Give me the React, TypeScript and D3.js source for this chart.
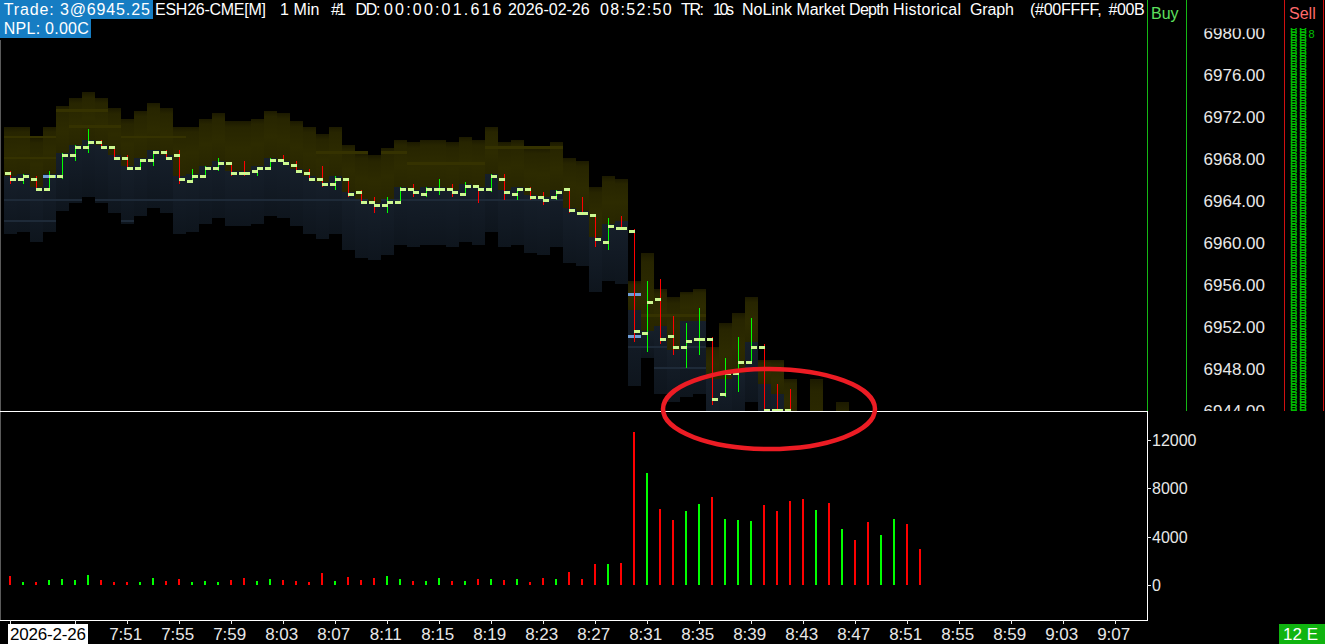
import React, { useEffect } from "react";
import * as d3 from "d3";

const W = 1325;
const H = 644;
const FONT = "'Liberation Sans', Arial, sans-serif";

// ---------- data ----------
const SESSION_DAY = [2026, 1, 26];
const FIRST_BAR = "7:42";
const LAST_AXIS_TIME = "9:07";

const OPEN = [6966.5,6966,6966,6965,6966.25,6968.25,6969,6969.5,6969,6968,
  6967,6967.75,6968.5,6968.25,6965.75,6966.25,6967,6967.5,6966.5,6966.75,
  6967,6967.75,6967.25,6966.5,6966,6965.5,6966,6964.75,6963.75,6963.5,
  6963.75,6965,6964.5,6965,6965,6964.5,6965.25,6965,6966,6964.5,
  6965,6964.25,6964.25,6965,6962.75,6962.5,6960,6961.25,6961,6951.25,
  6954.5,6951,6950,6950.75,6950.75,6945.5,6947.5,6948.5,6950,6944,
  6944];
const HIGH = [6966.75,6966.5,6966.25,6966.75,6968.5,6969.25,6970.75,6969.75,6969,6968.25,
  6967.75,6968.5,6968.75,6968.75,6967,6967.25,6968,6967.5,6967.75,6967,
  6968,6968.25,6967.75,6967,6967.25,6966.25,6966,6965,6964.25,6964.25,
  6965.25,6965.5,6965.25,6966,6965.5,6965.75,6965.25,6966.5,6966.5,6965,
  6965.25,6964.75,6965,6965,6964.25,6962.5,6962.25,6962.5,6961.25,6956.25,
  6956.5,6953,6952.25,6953.75,6951,6949,6951,6952.75,6950.25,6946.5,
  6946];
const LOW = [6965.5,6965.5,6965,6965,6966,6967.75,6968.5,6969,6968,6967,
  6967,6967.25,6968,6965.5,6965.75,6966.25,6966.75,6966.25,6966.25,6966.25,
  6967,6967.5,6966.75,6966,6965.25,6965,6964.25,6963.75,6962.75,6962.75,
  6963.75,6964.25,6964.25,6964.5,6964.25,6964.5,6963.75,6964.75,6964,6964,
  6964,6963.5,6964,6962.75,6962.75,6959.5,6959.25,6961.25,6950.5,6949.5,
  6950.25,6949.25,6948,6949.25,6944.5,6945.25,6945.75,6948.5,6943.5,6943.5,
  6943];
const CLOSE = [6966,6966.25,6965,6966.25,6968.25,6969,6969.5,6969,6968,6967,
  6967.75,6968.5,6968,6966,6966.25,6967,6967.5,6966.5,6966.5,6967,
  6967.75,6967.5,6966.75,6966,6965.5,6966,6964.5,6963.75,6963.5,6963.75,
  6965,6964.75,6965,6965,6964.75,6965.25,6965,6966.25,6964.75,6965,
  6964.25,6964,6964.75,6963,6962.75,6960.25,6961.5,6961.25,6951.5,6954.25,
  6950.75,6950,6950.5,6950.75,6945,6947.5,6948.5,6950,6944,6944,
  6943.25];

const DIR = ["d","u","d","u","u","u","u","d","d","d",
  "u","u","d","d","u","u","u","d","d","u",
  "u","d","d","d","d","u","d","d","d","u",
  "u","d","u","u","d","u","d","u","d","u",
  "d","d","u","d","d","d","u","d","d","u",
  "d","d","u","u","d","u","u","u","d","d",
  "d","d","u","d","u","d","d","u","u","d",
  "d"];

const VOLUME = [745,250,250,410,500,410,830,410,250,250,
  250,580,330,500,250,330,250,410,580,330,
  500,410,330,250,990,330,660,410,580,745,
  500,330,330,580,330,330,500,500,410,500,
  250,580,500,1075,500,1740,1740,1820,12660,9290,
  6290,5400,6150,6730,7280,5490,5400,5320,6620,6150,
  6980,7120,6230,6810,4660,3750,5240,4140,5490,5070,
  3000];

// market depth window per bar (price edges)
const DEPTH_TOP = [6971,6971,6970,6971,6973,6973.75,6974.25,6973.75,6972.75,6971.75,
  6972.5,6973.25,6972.75,6971,6971,6971.75,6972.25,6971.5,6971.5,6971.75,
  6972.5,6972.25,6971.5,6971,6970.25,6971,6969.25,6968.5,6968.25,6969,
  6969.75,6969.5,6969.75,6969.75,6969.5,6970,6969.75,6971,6969.5,6969.75,
  6969,6969,6969.5,6968,6967.75,6965.25,6966.25,6966,6956.25,6959,
  6955.5,6954.75,6955.25,6955.5,6950,6952.25,6953.25,6954.75,6948.75,6948.75,
  6947,null,6947,null,6944.75];
const DEPTH_SPLIT = [6966.25,6966.5,6965.25,6966.5,6968.5,6969.25,6969.75,6969.25,6968.25,6967.25,
  6968,6968.75,6968.25,6966.25,6966.5,6967.25,6967.75,6966.75,6966.75,6967.25,
  6968,6967.75,6967,6966.25,6965.75,6966.25,6964.75,6964,6963.75,6964,
  6965.25,6965,6965.25,6965.25,6965,6965.5,6965.25,6966.5,6965,6965.25,
  6964.5,6964.25,6965,6963.25,6963,6960.5,6961.75,6962,6953.5,6951.5,
  6952,6949.75,6952.5,6952.5,6947,6947,6947.5,6950.5,6946.5,6945.5,
  6943,null,6930,null,6930];
const DEPTH_BOTTOM = [6960.75,6961,6960,6961,6963,6963.75,6964.25,6963.75,6962.75,6961.75,
  6962.5,6963.25,6962.75,6960.75,6961,6961.75,6962.25,6961.5,6961.5,6961.75,
  6962.5,6962.25,6961.5,6960.75,6960.25,6960.75,6959.25,6958.5,6958.25,6958.75,
  6959.75,6959.5,6959.75,6959.75,6959.5,6960,6959.75,6961,6959.5,6959.75,
  6959,6958.75,6959.5,6958,6957.75,6955.25,6956.25,6956,6946.25,6949,
  6945.5,6944.75,6945.25,6945.5,6940,6942.25,6943.25,6944.75,6938.75,6938.75,
  6937,null,6937,null,6934.75];

// heavier resting levels seen as brighter rows: [price, firstBar, lastBar]
const ASK_HEAVY = [[6972.5,3,7],[6970,0,3],[6970,9,13],[6968,0,3],[6971,5,8],[6968.5,24,30],[6967.5,31,36],[6969,37,42],[6953,49,53]];
const BID_HEAVY = [[6964,0,44],[6962,0,12],[6948,49,57],[6950,48,53]];
const BID_HIGHLIGHT = [[6966.25,3],[6955,48],[6951,48]];

const PRICE_TICKS = [6980,6976,6972,6968,6964,6960,6956,6952,6948,6944];
const VOL_TICKS = [0,4000,8000,12000];
const TIME_TICKS = ["7:47","7:51","7:55","7:59","8:03","8:07","8:11","8:15","8:19","8:23","8:27",
  "8:31","8:35","8:39","8:43","8:47","8:51","8:55","8:59","9:03","9:07"];
const TIME_LABELS = ["7:51","7:55","7:59","8:03","8:07","8:11","8:15","8:19","8:23","8:27",
  "8:31","8:35","8:39","8:43","8:47","8:51","8:55","8:59","9:03","9:07"];
const DATE_LABEL = "2026-2-26";

const SELL_COL1 = "5";
const SELL_COL2 = "5";
const SELL_TOP_DIGIT = "8";

const HEADER_TRADE = "Trade: 3@6945.25";
const HEADER_NPL = "NPL: 0.00C";
const HEADER_WORDS = ["ESH26-CME[M]","1 Min","#1","DD:","00:00:01.616","2026-02-26","08:52:50","TR:","10s","NoLink","Market","Depth","Historical","Graph","(#00FFFF,","#00B"];
const HEADER_X = [155,280,331,355.5,384,508,600,681,713,742,796.5,849,893,970,1030,1108.6];
const HEADER_W = [111,39.5,15,25,117.5,81.6,71.7,23,21,50,48.5,40,68,43.8,71.6,36];

// ---------- component ----------
const toTime = (s: string) => {
  const [h, m] = s.split(":").map(Number);
  return new Date(SESSION_DAY[0], SESSION_DAY[1], SESSION_DAY[2], h, m);
};

export default function App() {
  useEffect(() => {
    document.body.style.margin = "0";
    document.body.style.background = "#000";
  }, []);

  const x = d3.scaleTime().domain([toTime(FIRST_BAR), toTime(LAST_AXIS_TIME)]).range([10.2, 1115.2]);
  const t0 = toTime(FIRST_BAR).getTime();
  const bx = (i: number) => x(new Date(t0 + i * 60000));
  const yP = d3.scaleLinear().domain([6944, 6980]).range([410, 32]);
  const yV = d3.scaleLinear().domain([0, 12000]).range([585, 440]);
  const step = Math.abs(yP(6944.25) - yP(6944));
  const half = (bx(1) - bx(0)) / 2;
  const fmt = d3.format(".2f");

  const UP = "#00ff00";
  const DN = "#ff0000";
  const TICK = "#ccf890";
  const BLUE = "#167dc3";
  const AX = "#e8e8e8";

  // one row of sell-side numbers per 0.25 price level
  const sellLevels = d3.range(6943.75, 6980.76, 0.25);

  return (
    <div style={{ position: "fixed", left: 0, top: 0, width: W, height: H, background: "#000" }}>
      <svg width={W} height={H} style={{ display: "block", background: "#000" }}>
        <defs>
          <clipPath id="pricePanel"><rect x={1} y={0} width={1146} height={411} /></clipPath>
          <clipPath id="priceAxis"><rect x={1187} y={28.5} width={97} height={382.5} /></clipPath>
          <clipPath id="sellCol"><rect x={1285} y={28} width={38} height={383} /></clipPath>
          <linearGradient id="askGrad" x1="0" y1="0" x2="0" y2="1">
            <stop offset="0" stopColor="#1c1a00" />
            <stop offset="0.12" stopColor="#272500" />
            <stop offset="0.55" stopColor="#2d2b00" />
            <stop offset="1" stopColor="#282600" />
          </linearGradient>
          <linearGradient id="bidGrad" x1="0" y1="0" x2="0" y2="1">
            <stop offset="0" stopColor="#161f2a" />
            <stop offset="0.5" stopColor="#121a24" />
            <stop offset="1" stopColor="#0e151d" />
          </linearGradient>
        </defs>

        <rect x={0} y={0} width={W} height={H} fill="#000" />

        {/* ---------- price panel ---------- */}
        <g clipPath="url(#pricePanel)" shapeRendering="crispEdges">
          {DEPTH_TOP.map((top, i) => {
            const split = DEPTH_SPLIT[i];
            const bot = DEPTH_BOTTOM[i];
            if (top == null || split == null || bot == null) return null;
            const x0 = bx(i) - half;
            const askLow = Math.max(split, bot);
            const bidTop = Math.min(split, top);
            return (
              <g key={"d" + i}>
                {top > askLow && (
                  <rect x={x0} y={yP(top)} width={half * 2} height={yP(askLow) - yP(top)} fill="url(#askGrad)" />
                )}
                {bidTop > bot && (
                  <rect x={x0} y={yP(bidTop)} width={half * 2} height={yP(bot) - yP(bidTop)} fill="url(#bidGrad)" />
                )}
              </g>
            );
          })}
          {ASK_HEAVY.map(([p, a, b], k) =>
            d3.range(a, b + 1).map((i) => {
              const top = DEPTH_TOP[i], split = DEPTH_SPLIT[i];
              if (top == null || split == null || p <= split || p > top) return null;
              return <rect key={"ah" + k + "_" + i} x={bx(i) - half} y={yP(p) - step / 2} width={half * 2} height={step} fill="#353200" />;
            })
          )}
          {BID_HEAVY.map(([p, a, b], k) =>
            d3.range(a, b + 1).map((i) => {
              const bot = DEPTH_BOTTOM[i], split = DEPTH_SPLIT[i];
              if (bot == null || split == null || p > split || p < bot) return null;
              return <rect key={"bh" + k + "_" + i} x={bx(i) - half} y={yP(p) - step / 2} width={half * 2} height={step} fill="#1e2a38" />;
            })
          )}
          {BID_HIGHLIGHT.map(([p, i], k) => (
            <rect key={"hl" + k} x={bx(i) - half} y={yP(p) - step / 2} width={half * 2} height={step} fill="#6f9dd6" />
          ))}

          {/* OHLC bars */}
          {OPEN.map((o, i) => (
            <rect key={"l" + i} x={bx(i) - 0.4} y={yP(HIGH[i])} width={1.3}
              height={Math.max(1, yP(LOW[i]) - yP(HIGH[i]))} fill={DIR[i] === "u" ? UP : DN} />
          ))}
          {OPEN.map((o, i) => (
            <g key={"t" + i}>
              <rect x={bx(i) - 5.3} y={yP(o) - 1.5} width={6} height={3} fill={TICK} />
              <rect x={bx(i) - 0.3} y={yP(CLOSE[i]) - 1.5} width={6} height={3} fill={TICK} />
            </g>
          ))}
        </g>

        {/* panel borders */}
        <g shapeRendering="crispEdges">
          <line x1={0.5} y1={40} x2={0.5} y2={620} stroke="#5a5a5a" strokeWidth={1} />
          <line x1={0} y1={411.5} x2={1147.5} y2={411.5} stroke="#ffffff" strokeWidth={1} />
          <line x1={1147.5} y1={411.5} x2={1147.5} y2={620.5} stroke="#ffffff" strokeWidth={1} />
          <line x1={0} y1={620.5} x2={1147.5} y2={620.5} stroke="#ffffff" strokeWidth={1} />
          <line x1={1147.5} y1={0} x2={1147.5} y2={411} stroke="#14b814" strokeWidth={1} />
          <line x1={1186.5} y1={0} x2={1186.5} y2={411} stroke="#14b814" strokeWidth={1} />
          <line x1={1284.5} y1={0} x2={1284.5} y2={411} stroke="#d01010" strokeWidth={1} />
          <line x1={1323.5} y1={0} x2={1323.5} y2={411} stroke="#d01010" strokeWidth={1} />
        </g>

        {/* Buy / Sell headings */}
        <text x={1151} y={19} fill="#5ee05e" fontFamily={FONT} fontSize={16}>Buy</text>
        <text x={1289} y={19} fill="#ff6a6a" fontFamily={FONT} fontSize={16}>Sell</text>

        {/* price axis labels */}
        <g clipPath="url(#priceAxis)">
          {PRICE_TICKS.map((p) => (
            <text key={p} x={1265} y={yP(p) + 6.5} textAnchor="end" fill={AX} fontFamily={FONT} fontSize={17}>
              {fmt(p)}
            </text>
          ))}
        </g>

        {/* sell-side depth numbers column */}
        <g clipPath="url(#sellCol)" fill="#00c000" fontFamily={FONT} fontSize={9}>
          {sellLevels.map((p, k) => (
            <g key={"s" + k}>
              <text x={1290} y={yP(p) + 3.3} textLength={7.5} lengthAdjust="spacingAndGlyphs">{SELL_COL1}</text>
              <text x={1299} y={yP(p) + 3.3} textLength={8} lengthAdjust="spacingAndGlyphs">{SELL_COL2}</text>
            </g>
          ))}
          <text x={1308.5} y={38} fontSize={11}>{SELL_TOP_DIGIT}</text>
        </g>

        {/* ---------- volume panel ---------- */}
        <g shapeRendering="crispEdges">
          {VOLUME.map((v, i) => (
            <rect key={"v" + i} x={bx(i) - 1.5} y={yV(v)} width={2.2} height={yV(0) - yV(v)}
              fill={DIR[i] === "u" ? UP : DN} />
          ))}
          {VOL_TICKS.map((v) => (
            <line key={"vt" + v} x1={1147} y1={yV(v) + 0.5} x2={1151} y2={yV(v) + 0.5} stroke={AX} />
          ))}
        </g>
        {VOL_TICKS.map((v) => (
          <text key={"vl" + v} x={1152} y={yV(v) + 6} fill={AX} fontFamily={FONT} fontSize={16}>{v}</text>
        ))}

        {/* ---------- time axis ---------- */}
        <g shapeRendering="crispEdges">
          <line x1={bx(0)} y1={620} x2={bx(0)} y2={624} stroke={AX} />
          {TIME_TICKS.map((s) => (
            <line key={"tt" + s} x1={x(toTime(s))} y1={620} x2={x(toTime(s))} y2={624} stroke={AX} />
          ))}
          <rect x={8} y={624} width={80} height={20} fill="#ffffff" />
        </g>
        <text x={10} y={640} fill="#000" fontFamily={FONT} fontSize={17} textLength={76}>{DATE_LABEL}</text>
        {TIME_LABELS.map((s) => (
          <text key={"tl" + s} x={x(toTime(s)) - 1.5} y={640} textAnchor="middle" fill={AX} fontFamily={FONT} fontSize={17}>{s}</text>
        ))}
        <rect x={1279} y={624} width={46} height={20} fill="#10b410" />
        <text x={1283} y={640} fill="#ffffff" fontFamily={FONT} fontSize={17}>12 E</text>

        {/* ---------- header ---------- */}
        <g fontFamily={FONT} fontSize={16} fill="#ffffff">
          <rect x={0} y={0} width={153} height={19} fill={BLUE} />
          <rect x={0} y={19} width={91} height={19} fill={BLUE} />
          <text x={3.8} y={15} textLength={146} lengthAdjust="spacing">{HEADER_TRADE}</text>
          <text x={3.8} y={33.5} textLength={85} lengthAdjust="spacing">{HEADER_NPL}</text>
          {HEADER_WORDS.map((w, k) => (
            <text key={"h" + k} x={HEADER_X[k]} y={15} textLength={HEADER_W[k]} lengthAdjust="spacing">{w}</text>
          ))}
        </g>

        {/* annotation ellipse */}
        <ellipse cx={769} cy={409} rx={106} ry={40} fill="none" stroke="#ec1c24" strokeWidth={4.5} />
      </svg>
    </div>
  );
}
